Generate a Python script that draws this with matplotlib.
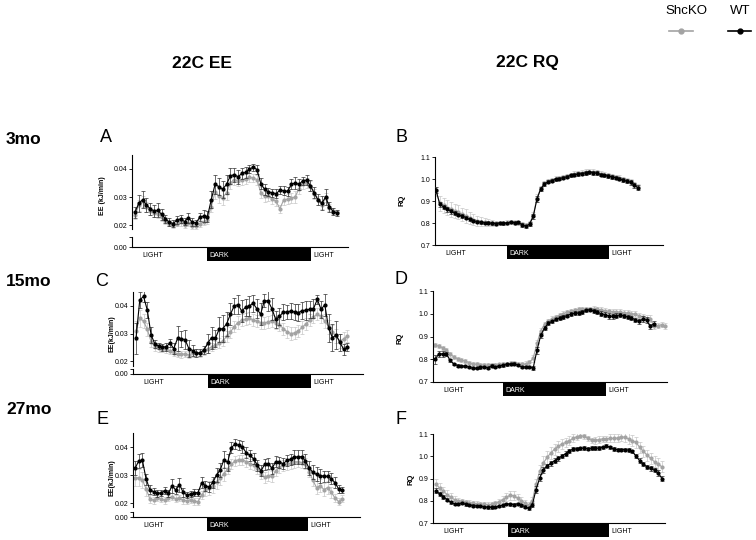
import numpy as np
import matplotlib
matplotlib.use("Agg")
import matplotlib.pyplot as plt

plt.rcParams['font.family'] = ['Liberation Sans', 'DejaVu Sans']

# ── data (one sample every ~0.44 h, dark = 0..12 h) ──
DT = 0.44

wt_A = [0.0245, 0.0278, 0.0290, 0.0272, 0.0258, 0.0250, 0.0252, 0.0238, 0.0222, 0.0210,
        0.0205, 0.0218, 0.0222, 0.0212, 0.0226, 0.0210, 0.0207, 0.0228, 0.0232, 0.0230,
        0.0290, 0.0345, 0.0337, 0.0328, 0.0345, 0.0375, 0.0380, 0.0372, 0.0384, 0.0388,
        0.0400, 0.0406, 0.0398, 0.0348, 0.0327, 0.0318, 0.0315, 0.0312, 0.0324, 0.0323,
        0.0320, 0.0345, 0.0350, 0.0345, 0.0358, 0.0360, 0.0340, 0.0315, 0.0290, 0.0278,
        0.0300, 0.0265, 0.0248, 0.0242]
ko_A = [0.0235, 0.0270, 0.0285, 0.0265, 0.0250, 0.0242, 0.0240, 0.0228, 0.0215, 0.0205,
        0.0200, 0.0205, 0.0210, 0.0200, 0.0208, 0.0195, 0.0195, 0.0205, 0.0212, 0.0218,
        0.0265, 0.0318, 0.0305, 0.0298, 0.0315, 0.0350, 0.0362, 0.0358, 0.0360, 0.0365,
        0.0370, 0.0368, 0.0362, 0.0315, 0.0302, 0.0305, 0.0292, 0.0285, 0.0258, 0.0290,
        0.0292, 0.0296, 0.0300, 0.0330, 0.0345, 0.0350, 0.0338, 0.0310, 0.0288, 0.0272,
        0.0298, 0.0262, 0.0250, 0.0245]
wt_A_err = [0.0020, 0.0030, 0.0030, 0.0025, 0.0022, 0.0020, 0.0025, 0.0020, 0.0015, 0.0015,
            0.0012, 0.0015, 0.0015, 0.0012, 0.0018, 0.0015, 0.0012, 0.0015, 0.0020, 0.0020,
            0.0030, 0.0035, 0.0030, 0.0030, 0.0035, 0.0030, 0.0025, 0.0025, 0.0020, 0.0020,
            0.0015, 0.0012, 0.0015, 0.0020, 0.0020, 0.0015, 0.0015, 0.0015, 0.0015, 0.0015,
            0.0015, 0.0018, 0.0020, 0.0020, 0.0015, 0.0018, 0.0020, 0.0020, 0.0020, 0.0025,
            0.0030, 0.0018, 0.0012, 0.0010]
ko_A_err = [0.0015, 0.0020, 0.0020, 0.0018, 0.0015, 0.0015, 0.0015, 0.0012, 0.0012, 0.0010,
            0.0010, 0.0010, 0.0012, 0.0010, 0.0012, 0.0010, 0.0010, 0.0012, 0.0012, 0.0015,
            0.0020, 0.0025, 0.0025, 0.0025, 0.0025, 0.0020, 0.0020, 0.0020, 0.0018, 0.0018,
            0.0015, 0.0015, 0.0018, 0.0020, 0.0020, 0.0018, 0.0018, 0.0018, 0.0015, 0.0018,
            0.0018, 0.0018, 0.0020, 0.0020, 0.0018, 0.0018, 0.0018, 0.0018, 0.0015, 0.0015,
            0.0015, 0.0012, 0.0010, 0.0010]

wt_B = [0.950, 0.885, 0.873, 0.862, 0.853, 0.845, 0.838, 0.832, 0.824, 0.816,
        0.810, 0.806, 0.803, 0.800, 0.801, 0.798, 0.797, 0.800, 0.798, 0.800,
        0.805, 0.801, 0.803, 0.792, 0.785, 0.795, 0.830, 0.910, 0.955, 0.978,
        0.987, 0.993, 0.998, 1.002, 1.006, 1.010, 1.016, 1.020, 1.022, 1.025,
        1.028, 1.030, 1.028, 1.027, 1.020, 1.016, 1.013, 1.010, 1.006, 1.002,
        0.995, 0.990, 0.985, 0.972, 0.960]
ko_B = [0.945, 0.890, 0.880, 0.870, 0.862, 0.855, 0.848, 0.840, 0.832, 0.823,
        0.815, 0.810, 0.806, 0.803, 0.802, 0.800, 0.799, 0.800, 0.799, 0.802,
        0.804, 0.802, 0.800, 0.796, 0.790, 0.798, 0.835, 0.915, 0.958, 0.980,
        0.990, 0.996, 1.002, 1.005, 1.009, 1.013, 1.019, 1.023, 1.026, 1.029,
        1.032, 1.034, 1.033, 1.030, 1.024, 1.020, 1.016, 1.012, 1.008, 1.004,
        0.998, 0.993, 0.988, 0.976, 0.965]
wt_B_err = [0.015, 0.012, 0.010, 0.010, 0.010, 0.010, 0.008, 0.008, 0.008, 0.008,
            0.007, 0.007, 0.006, 0.006, 0.006, 0.006, 0.006, 0.006, 0.006, 0.006,
            0.006, 0.006, 0.006, 0.008, 0.008, 0.008, 0.012, 0.015, 0.010, 0.008,
            0.007, 0.007, 0.007, 0.007, 0.007, 0.007, 0.007, 0.007, 0.008, 0.008,
            0.008, 0.008, 0.008, 0.008, 0.008, 0.008, 0.008, 0.008, 0.008, 0.008,
            0.008, 0.010, 0.010, 0.012, 0.012]
ko_B_err = [0.020, 0.035, 0.035, 0.035, 0.035, 0.032, 0.032, 0.030, 0.030, 0.028,
            0.025, 0.022, 0.020, 0.018, 0.015, 0.012, 0.012, 0.010, 0.010, 0.010,
            0.010, 0.010, 0.010, 0.010, 0.010, 0.010, 0.015, 0.018, 0.012, 0.010,
            0.010, 0.010, 0.010, 0.010, 0.010, 0.010, 0.010, 0.012, 0.012, 0.012,
            0.012, 0.012, 0.012, 0.012, 0.012, 0.012, 0.012, 0.012, 0.012, 0.012,
            0.012, 0.012, 0.012, 0.012, 0.012]

wt_C = [0.0282, 0.0422, 0.0435, 0.0385, 0.0295, 0.0262, 0.0254, 0.0250, 0.0252, 0.0265,
        0.0245, 0.0282, 0.0280, 0.0278, 0.0245, 0.0238, 0.0228, 0.0230, 0.0240, 0.0265,
        0.0285, 0.0282, 0.0315, 0.0318, 0.0335, 0.0370, 0.0400, 0.0405, 0.0382, 0.0395,
        0.0400, 0.0410, 0.0390, 0.0370, 0.0420, 0.0418, 0.0390, 0.0351, 0.0362, 0.0378,
        0.0378, 0.0382, 0.0378, 0.0376, 0.0383, 0.0385, 0.0388, 0.0390, 0.0424, 0.0388,
        0.0404, 0.0320, 0.0285, 0.0294, 0.0268, 0.0242, 0.0250]
ko_C = [0.0310, 0.0355, 0.0345, 0.0315, 0.0270, 0.0252, 0.0248, 0.0245, 0.0242, 0.0238,
        0.0230, 0.0225, 0.0224, 0.0226, 0.0222, 0.0228, 0.0230, 0.0228, 0.0235, 0.0245,
        0.0250, 0.0258, 0.0265, 0.0272, 0.0290, 0.0305, 0.0325, 0.0340, 0.0348, 0.0352,
        0.0355, 0.0350, 0.0345, 0.0340, 0.0338, 0.0342, 0.0345, 0.0340, 0.0332, 0.0318,
        0.0306, 0.0300, 0.0302, 0.0310, 0.0322, 0.0335, 0.0348, 0.0360, 0.0370, 0.0362,
        0.0345, 0.0325, 0.0305, 0.0290, 0.0272, 0.0280, 0.0292]
wt_C_err = [0.0055, 0.0030, 0.0020, 0.0030, 0.0030, 0.0015, 0.0012, 0.0012, 0.0015, 0.0015,
            0.0020, 0.0045, 0.0030, 0.0035, 0.0030, 0.0020, 0.0015, 0.0012, 0.0015, 0.0035,
            0.0040, 0.0030, 0.0045, 0.0050, 0.0045, 0.0040, 0.0030, 0.0035, 0.0040, 0.0030,
            0.0035, 0.0030, 0.0035, 0.0040, 0.0025, 0.0035, 0.0040, 0.0030, 0.0030, 0.0030,
            0.0025, 0.0030, 0.0030, 0.0030, 0.0030, 0.0035, 0.0030, 0.0035, 0.0015, 0.0030,
            0.0040, 0.0050, 0.0050, 0.0050, 0.0030, 0.0020, 0.0015]
ko_C_err = [0.0035, 0.0030, 0.0025, 0.0025, 0.0020, 0.0015, 0.0015, 0.0012, 0.0012, 0.0012,
            0.0012, 0.0012, 0.0012, 0.0012, 0.0012, 0.0012, 0.0012, 0.0012, 0.0012, 0.0015,
            0.0015, 0.0015, 0.0018, 0.0018, 0.0020, 0.0020, 0.0020, 0.0022, 0.0022, 0.0022,
            0.0022, 0.0022, 0.0022, 0.0022, 0.0022, 0.0022, 0.0022, 0.0022, 0.0022, 0.0022,
            0.0022, 0.0022, 0.0022, 0.0022, 0.0022, 0.0022, 0.0022, 0.0022, 0.0022, 0.0025,
            0.0025, 0.0025, 0.0025, 0.0025, 0.0025, 0.0025, 0.0022]

wt_D = [0.800, 0.823, 0.824, 0.823, 0.795, 0.779, 0.772, 0.770, 0.769, 0.766,
        0.760, 0.760, 0.764, 0.766, 0.763, 0.772, 0.766, 0.771, 0.773, 0.777,
        0.778, 0.781, 0.774, 0.765, 0.767, 0.766, 0.762, 0.840, 0.905, 0.938,
        0.958, 0.966, 0.975, 0.982, 0.987, 0.992, 0.999, 1.002, 1.004, 1.007,
        1.015, 1.018, 1.012, 1.007, 1.000, 0.996, 0.990, 0.989, 0.992, 0.995,
        0.990, 0.986, 0.982, 0.973, 0.966, 0.976, 0.972, 0.945, 0.956]
ko_D = [0.862, 0.858, 0.850, 0.840, 0.822, 0.810, 0.802, 0.797, 0.792, 0.785,
        0.780, 0.778, 0.776, 0.774, 0.774, 0.776, 0.775, 0.777, 0.779, 0.780,
        0.782, 0.783, 0.780, 0.778, 0.779, 0.786, 0.805, 0.870, 0.925, 0.955,
        0.968, 0.978, 0.986, 0.994, 1.001, 1.007, 1.012, 1.016, 1.019, 1.021,
        1.021, 1.020, 1.020, 1.019, 1.017, 1.014, 1.010, 1.009, 1.008, 1.007,
        1.005, 1.003, 1.001, 0.998, 0.992, 0.985, 0.978, 0.978, 0.945, 0.948,
        0.952, 0.946]
wt_D_err = [0.020, 0.015, 0.012, 0.010, 0.008, 0.006, 0.005, 0.005, 0.005, 0.005,
            0.005, 0.005, 0.005, 0.005, 0.005, 0.005, 0.005, 0.005, 0.005, 0.005,
            0.005, 0.005, 0.005, 0.005, 0.005, 0.005, 0.008, 0.015, 0.012, 0.010,
            0.008, 0.008, 0.008, 0.008, 0.008, 0.008, 0.008, 0.008, 0.008, 0.008,
            0.008, 0.008, 0.010, 0.010, 0.012, 0.012, 0.012, 0.010, 0.010, 0.010,
            0.010, 0.010, 0.010, 0.010, 0.010, 0.012, 0.012, 0.012, 0.010]
ko_D_err = [0.008, 0.010, 0.010, 0.010, 0.010, 0.008, 0.008, 0.008, 0.008, 0.008,
            0.008, 0.008, 0.008, 0.008, 0.008, 0.008, 0.008, 0.008, 0.008, 0.010,
            0.010, 0.010, 0.010, 0.012, 0.012, 0.012, 0.015, 0.015, 0.012, 0.010,
            0.010, 0.010, 0.010, 0.010, 0.010, 0.010, 0.010, 0.010, 0.010, 0.010,
            0.010, 0.010, 0.012, 0.012, 0.012, 0.012, 0.012, 0.012, 0.012, 0.012,
            0.012, 0.012, 0.012, 0.012, 0.012, 0.012, 0.015, 0.015, 0.012, 0.012,
            0.012, 0.012]

wt_E = [0.0324, 0.0350, 0.0352, 0.0285, 0.0248, 0.0240, 0.0234, 0.0236, 0.0244, 0.0234,
        0.0262, 0.0246, 0.0266, 0.0238, 0.0229, 0.0232, 0.0237, 0.0237, 0.0272, 0.0262,
        0.0256, 0.0274, 0.0300, 0.0318, 0.0355, 0.0345, 0.0398, 0.0410, 0.0406, 0.0400,
        0.0380, 0.0370, 0.0358, 0.0335, 0.0315, 0.0338, 0.0340, 0.0324, 0.0348, 0.0346,
        0.0340, 0.0352, 0.0356, 0.0365, 0.0364, 0.0366, 0.0350, 0.0325, 0.0310, 0.0302,
        0.0298, 0.0296, 0.0295, 0.0287, 0.0272, 0.0250, 0.0246]
ko_E = [0.0290, 0.0290, 0.0282, 0.0250, 0.0215, 0.0210, 0.0218, 0.0214, 0.0210, 0.0218,
        0.0222, 0.0215, 0.0218, 0.0210, 0.0208, 0.0212, 0.0206, 0.0205, 0.0228, 0.0245,
        0.0252, 0.0262, 0.0275, 0.0288, 0.0305, 0.0322, 0.0338, 0.0350, 0.0355, 0.0354,
        0.0348, 0.0340, 0.0335, 0.0325, 0.0305, 0.0292, 0.0298, 0.0295, 0.0315, 0.0328,
        0.0335, 0.0338, 0.0342, 0.0345, 0.0348, 0.0344, 0.0340, 0.0312, 0.0282, 0.0255,
        0.0262, 0.0248, 0.0255, 0.0238, 0.0218, 0.0205, 0.0215]
wt_E_err = [0.0025, 0.0025, 0.0025, 0.0020, 0.0015, 0.0012, 0.0012, 0.0012, 0.0012, 0.0012,
            0.0025, 0.0015, 0.0025, 0.0015, 0.0012, 0.0012, 0.0012, 0.0012, 0.0020, 0.0018,
            0.0018, 0.0020, 0.0025, 0.0025, 0.0030, 0.0030, 0.0020, 0.0018, 0.0018, 0.0020,
            0.0020, 0.0020, 0.0020, 0.0020, 0.0020, 0.0020, 0.0020, 0.0020, 0.0020, 0.0020,
            0.0020, 0.0020, 0.0020, 0.0025, 0.0025, 0.0025, 0.0025, 0.0025, 0.0025, 0.0025,
            0.0025, 0.0020, 0.0020, 0.0020, 0.0020, 0.0015, 0.0012]
ko_E_err = [0.0030, 0.0030, 0.0030, 0.0025, 0.0015, 0.0012, 0.0012, 0.0012, 0.0012, 0.0012,
            0.0012, 0.0012, 0.0012, 0.0012, 0.0012, 0.0012, 0.0012, 0.0012, 0.0015, 0.0020,
            0.0025, 0.0025, 0.0025, 0.0025, 0.0025, 0.0020, 0.0018, 0.0018, 0.0018, 0.0018,
            0.0018, 0.0018, 0.0018, 0.0020, 0.0020, 0.0020, 0.0020, 0.0020, 0.0020, 0.0020,
            0.0020, 0.0020, 0.0020, 0.0020, 0.0020, 0.0020, 0.0020, 0.0020, 0.0022, 0.0022,
            0.0022, 0.0022, 0.0022, 0.0020, 0.0015, 0.0012, 0.0012]

wt_F = [0.845, 0.830, 0.818, 0.805, 0.793, 0.786, 0.786, 0.790, 0.784, 0.781,
        0.778, 0.777, 0.776, 0.773, 0.770, 0.770, 0.772, 0.775, 0.780, 0.786,
        0.784, 0.783, 0.786, 0.780, 0.773, 0.766, 0.782, 0.850, 0.903, 0.938,
        0.957, 0.968, 0.980, 0.990, 1.001, 1.012, 1.024, 1.032, 1.034, 1.035,
        1.037, 1.034, 1.036, 1.036, 1.037, 1.040, 1.048, 1.040, 1.032, 1.030,
        1.030, 1.030, 1.028, 1.022, 1.000, 0.980, 0.964, 0.952, 0.945, 0.937,
        0.925, 0.900]
ko_F = [0.875, 0.856, 0.842, 0.828, 0.815, 0.805, 0.800, 0.798, 0.795, 0.792,
        0.789, 0.787, 0.785, 0.784, 0.783, 0.784, 0.788, 0.795, 0.805, 0.815,
        0.825, 0.822, 0.812, 0.800, 0.790, 0.782, 0.800, 0.875, 0.932, 0.970,
        0.995, 1.015, 1.032, 1.045, 1.055, 1.062, 1.070, 1.080, 1.088, 1.092,
        1.090, 1.080, 1.072, 1.072, 1.075, 1.078, 1.078, 1.080, 1.080, 1.082,
        1.088, 1.085, 1.078, 1.070, 1.062, 1.040, 1.022, 1.005, 0.990, 0.975,
        0.965, 0.952]
wt_F_err = [0.012, 0.010, 0.010, 0.008, 0.008, 0.006, 0.006, 0.006, 0.006, 0.006,
            0.006, 0.006, 0.005, 0.005, 0.005, 0.005, 0.005, 0.005, 0.006, 0.006,
            0.006, 0.006, 0.006, 0.006, 0.006, 0.006, 0.010, 0.015, 0.015, 0.012,
            0.010, 0.010, 0.010, 0.010, 0.010, 0.010, 0.008, 0.008, 0.008, 0.008,
            0.008, 0.008, 0.008, 0.008, 0.008, 0.008, 0.008, 0.008, 0.008, 0.008,
            0.008, 0.008, 0.008, 0.008, 0.010, 0.010, 0.010, 0.010, 0.010, 0.010,
            0.012, 0.012]
ko_F_err = [0.025, 0.025, 0.022, 0.020, 0.018, 0.015, 0.012, 0.012, 0.010, 0.010,
            0.010, 0.010, 0.010, 0.010, 0.010, 0.010, 0.012, 0.012, 0.015, 0.018,
            0.020, 0.020, 0.018, 0.015, 0.012, 0.012, 0.015, 0.025, 0.030, 0.030,
            0.030, 0.028, 0.025, 0.025, 0.022, 0.020, 0.020, 0.018, 0.015, 0.012,
            0.012, 0.012, 0.012, 0.015, 0.015, 0.015, 0.015, 0.018, 0.018, 0.020,
            0.020, 0.022, 0.025, 0.025, 0.025, 0.025, 0.025, 0.025, 0.025, 0.025,
            0.025, 0.025]

# first sample time (h, relative to lights off) per panel
t0 = {'A': -8.31, 'B': -8.35, 'C': -8.39, 'D': -7.92, 'E': -8.55, 'F': -8.55}

# ── layout (pixels) ──────────────────────────────────────────────────────────
W, H = 756, 540
fig = plt.figure(figsize=(W / 100, H / 100), dpi=100)

def add_px(l, t, r, b):
    return fig.add_axes([l / W, 1 - b / H, (r - l) / W, (b - t) / H])

def ftext(x, y, s, **kw):
    fig.text(x / W, 1 - y / H, s, **kw)

GRAY, GRAY_E = '#a3a3a3', '#c6c6c6'
BLACK, BLACK_E = '#000000', '#303030'

def style(ax, lw=0.8):
    for s in ['top', 'right', 'bottom']:
        ax.spines[s].set_visible(False)
    ax.spines['left'].set_linewidth(lw)
    ax.tick_params(axis='y', length=2.5, width=0.6, labelsize=5, pad=1)
    ax.set_xticks([])

def series(ax, key, wt, ko, wt_e, ko_e):
    for y, e, c, ec, z in [(ko, ko_e, GRAY, GRAY_E, 2), (wt, wt_e, BLACK, BLACK_E, 3)]:
        t = t0[key] + DT * np.arange(len(y))
        ax.errorbar(t, y, yerr=e, color=c, ecolor=ec, lw=0.8, marker='o', ms=2.0,
                    elinewidth=0.5, capsize=1.2, capthick=0.5, zorder=z)

def light_bar(xl, xr, dl, dr, top, bot):
    pxph = (dr - dl) / 12.0
    lim = ((xl - dl) / pxph, (xr - dl) / pxph)
    bx = add_px(xl, top, xr, bot)
    bx.set_xlim(lim)
    bx.set_ylim(0, 1)
    bx.axis('off')
    bx.axvspan(0, 12, color='black', lw=0)
    bx.text(lim[0] + 1.2, 0.45, 'LIGHT', fontsize=5, va='center', ha='left')
    bx.text(0.25, 0.45, 'DARK', fontsize=5, va='center', ha='left', color='white')
    bx.text(12.25, 0.45, 'LIGHT', fontsize=5, va='center', ha='left')
    return lim

def ee_panel(key, wt, ko, wt_e, ko_e, xl, xr, dl, dr, top, y04, y02, ubot, ltop, xax, ylab, labx, laby):
    scale = (y02 - y04) / 0.02
    lim = light_bar(xl, xr, dl, dr, xax + 1, xax + 14)
    up = add_px(xl, top, xr, ubot)
    up.set_ylim(0.02 - (ubot - y02) / scale, 0.04 + (y04 - top) / scale)
    up.set_xlim(lim)
    style(up)
    up.set_yticks([0.02, 0.03, 0.04])
    up.set_yticklabels(['0.02', '0.03', '0.04'])
    series(up, key, wt, ko, wt_e, ko_e)
    lo = add_px(xl, ltop, xr, xax)
    lo.set_xlim(lim)
    lo.set_ylim(0, 1)
    style(lo)
    lo.spines['bottom'].set_visible(True)
    lo.spines['bottom'].set_linewidth(0.8)
    lo.set_yticks([0, 1])
    lo.set_yticklabels(['0.00', ''])
    ftext(labx, laby, ylab, fontsize=5, fontweight='bold', rotation=90, ha='center', va='center')

def rq_panel(key, wt, ko, wt_e, ko_e, xl, xr, dl, dr, top, bot, labx, laby):
    lim = light_bar(xl, xr, dl, dr, bot + 1, bot + 14)
    ax = add_px(xl, top, xr, bot)
    ax.set_xlim(lim)
    ax.set_ylim(0.7, 1.1)
    style(ax)
    ax.spines['bottom'].set_visible(True)
    ax.spines['bottom'].set_linewidth(0.8)
    ax.set_yticks([0.7, 0.8, 0.9, 1.0, 1.1])
    ax.set_yticklabels(['0.7', '0.8', '0.9', '1.0', '1.1'])
    series(ax, key, wt, ko, wt_e, ko_e)
    ftext(labx, laby, 'RQ', fontsize=5.5, fontweight='bold', rotation=90, ha='center', va='center')

ee_panel('A', wt_A, ko_A, wt_A_err, ko_A_err, 132, 348, 207, 311,
         155, 169, 225, 229, 237, 247, 'EE (kJ/min)', 103, 196)
ee_panel('C', wt_C, ko_C, wt_C_err, ko_C_err, 133, 363, 208, 311,
         292, 306, 361, 366, 369, 374, 'EE(kJ/min)', 112, 334)
ee_panel('E', wt_E, ko_E, wt_E_err, ko_E_err, 133, 360, 207, 308,
         433, 447, 503, 507, 512, 517, 'EE(kJ/min)', 112, 478)

rq_panel('B', wt_B, ko_B, wt_B_err, ko_B_err, 435, 663, 507, 609, 157, 245, 402, 200)
rq_panel('D', wt_D, ko_D, wt_D_err, ko_D_err, 433, 667, 503, 606, 291, 382, 400, 338)
rq_panel('F', wt_F, ko_F, wt_F_err, ko_F_err, 433, 665, 508, 609, 434, 523, 411, 479)

# ── headings, row labels, panel letters ──────────────────────────────────────
ftext(202, 63, '22C EE', fontsize=12.5, fontweight='bold', ha='center', va='center')
ftext(527, 63, '22C RQ', fontsize=12.5, fontweight='bold', ha='center', va='center')
for lab, y in [('3mo', 140), ('15mo', 282), ('27mo', 409)]:
    ftext(6, y, lab, fontsize=12.5, fontweight='bold', ha='left', va='center')
for lab, x, y in [('A', 106, 137), ('B', 401, 137), ('C', 102, 281),
                  ('D', 401, 279), ('E', 102, 420), ('F', 401, 420)]:
    ftext(x, y, lab, fontsize=13, ha='center', va='center')

# ── legend ────────────────────────────────────────────────────────────────────
ftext(686, 11, 'ShcKO', fontsize=9.5, ha='center', va='center')
ftext(740, 11, 'WT', fontsize=9.5, ha='center', va='center')
lg = add_px(660, 24, 756, 38)
lg.set_xlim(660, 756)
lg.set_ylim(0, 1)
lg.axis('off')
lg.plot([669, 693], [0.5, 0.5], color=GRAY, lw=1.2, marker='o', ms=3.5, markevery=[])
lg.plot([681], [0.5], color=GRAY, marker='o', ms=3.5)
lg.plot([728, 751], [0.5, 0.5], color=BLACK, lw=1.2)
lg.plot([740], [0.5], color=BLACK, marker='o', ms=3.5)

fig.savefig('out.png', dpi=100)
